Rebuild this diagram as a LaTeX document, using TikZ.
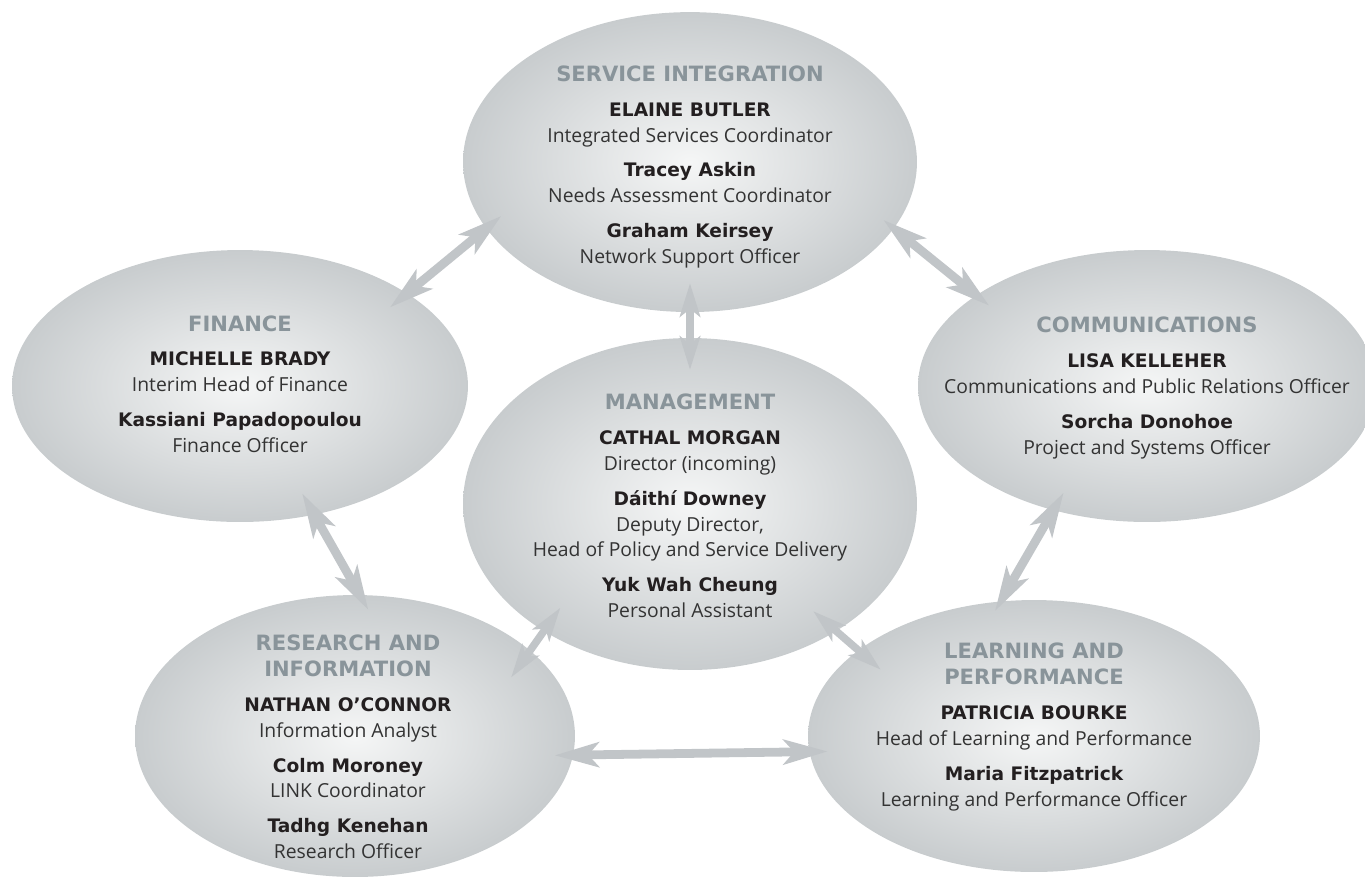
\documentclass[tikz,border=0pt]{standalone}
\usepackage{fontspec}
\setmainfont{Open Sans}
\newfontfamily\namefont{DejaVu Sans}
\usepackage{xcolor}
\usetikzlibrary{shapes.geometric,positioning,arrows.meta}

\definecolor{ovalin}{HTML}{F5F6F6}
\definecolor{ovalout}{HTML}{C8CCCE}
\definecolor{linkgrey}{HTML}{C1C5C8}
\definecolor{headgrey}{HTML}{89949A}
\definecolor{namegrey}{HTML}{231F20}
\definecolor{rolegrey}{HTML}{333333}

\newcommand{\unithead}[1]{{\color{headgrey}\namefont\bfseries\fontsize{12}{14.74}\selectfont #1}}
\newcommand{\staff}[2]{{\color{namegrey}\namefont\bfseries\fontsize{10.6}{14.74}\selectfont #1}\\#2}
\newcommand{\gap}{\\[5pt]}

\begin{document}
\begin{tikzpicture}[x=0.02cm, y=-0.02cm,
    oval/.style={ellipse, inner sep=0pt, outer sep=0pt, inner color=ovalin, outer color=ovalout},
    unit/.style={align=center, inner sep=0pt, font=\fontsize{11}{14.74}\selectfont\color{rolegrey}},
    link/.style={draw=linkgrey, line width=5pt,
        {Stealth[length=25pt, width=14pt, inset=6pt]}-{Stealth[length=25pt, width=14pt, inset=6pt]}},
    shortlink/.style={draw=linkgrey, line width=4.3pt,
        {Stealth[length=19pt, width=11.5pt, inset=4.5pt]}-{Stealth[length=19pt, width=11.5pt, inset=4.5pt]}}]
    % page size
    \useasboundingbox (0,0) rectangle (1365,877);

    % Ovals - management in the middle, the rest round it
    \node [oval, minimum width=9.08cm, minimum height=6.64cm] (mgt) at (690,504) {};
    \node [oval, minimum width=9.08cm, minimum height=6cm, above=0.52cm of mgt] (svc) {};
    \node [oval, minimum width=9.12cm, minimum height=5.44cm] (fin) at (240,386) {};
    \node [oval, minimum width=9.16cm, minimum height=5.44cm] (com) at (1147,386) {};
    \node [oval, minimum width=8.8cm, minimum height=5.64cm] (res) at (355,736) {};
    \node [oval, minimum width=9.04cm, minimum height=5.44cm] (lrn) at (1034,736) {};

    % Texts inside the ovals
    \node [unit, yshift=-0.1cm] (svc-txt) at (svc) {
        \unithead{SERVICE INTEGRATION}\gap
        \staff{ELAINE BUTLER}{Integrated Services Coordinator}\gap
        \staff{Tracey Askin}{Needs Assessment Coordinator}\gap
        \staff{Graham Keirsey}{Network Support Officer}
    };
    \node [unit, yshift=-0.04cm] (mgt-txt) at (mgt) {
        \unithead{MANAGEMENT}\gap
        \staff{CATHAL MORGAN}{Director (incoming)}\gap
        \staff{Dáithí Downey}{Deputy Director,\\Head of Policy and Service Delivery}\gap
        \staff{Yuk Wah Cheung}{Personal Assistant}
    };
    \node [unit, yshift=0.04cm] (fin-txt) at (fin) {
        \unithead{FINANCE}\gap
        \staff{MICHELLE BRADY}{Interim Head of Finance}\gap
        \staff{Kassiani Papadopoulou}{Finance Officer}
    };
    \node [unit, yshift=-0.04cm] (com-txt) at (com) {
        \unithead{COMMUNICATIONS}\gap
        \staff{LISA KELLEHER}{Communications and Public Relations Officer}\gap
        \staff{Sorcha Donohoe}{Project and Systems Officer}
    };
    \node [unit, xshift=-0.14cm, yshift=-0.22cm] (res-txt) at (res) {
        \unithead{RESEARCH AND}\\
        \unithead{INFORMATION}\gap
        \staff{NATHAN O’CONNOR}{Information Analyst}\gap
        \staff{Colm Moroney}{LINK Coordinator}\gap
        \staff{Tadhg Kenehan}{Research Officer}
    };
    \node [unit, yshift=0.18cm] (lrn-txt) at (lrn) {
        \unithead{LEARNING AND}\\
        \unithead{PERFORMANCE}\gap
        \staff{PATRICIA BOURKE}{Head of Learning and Performance}\gap
        \staff{Maria Fitzpatrick}{Learning and Performance Officer}
    };

    % Two-way links between the ovals
    \draw [link, shorten <=-12.5pt, shorten >=-11pt] (fin.29) -- (svc.198);
    \draw [shortlink, shorten <=-16.4pt, shorten >=-18.1pt] (svc.south) -- (mgt.north);
    \draw [link, shorten <=-7.5pt, shorten >=-9.3pt] (svc.342) -- (com.152);
    \draw [link, shorten <=-13.9pt, shorten >=-9.7pt] (fin.300) -- (res.88.5);
    \draw [shortlink, shorten <=-16.2pt, shorten >=-18.6pt] (mgt.221.6) -- (res.26.3);
    \draw [shortlink, shorten <=-17.2pt, shorten >=-16.7pt] (mgt.319.6) -- (lrn.154.6);
    \draw [link, shorten <=-10.4pt, shorten >=-10.3pt] (res.355.5) -- (lrn.184.3);
    \draw [link, shorten <=-11.5pt, shorten >=-6.2pt] (com.233.4) -- (lrn.104.2);
\end{tikzpicture}
\end{document}
